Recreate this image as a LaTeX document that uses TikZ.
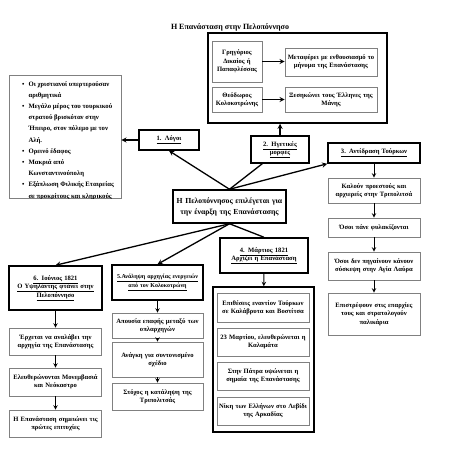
\documentclass[tikz,border=0pt]{standalone}
\usepackage{fontspec}
\setmainfont{Liberation Serif}
\tikzset
 {> = stealth,                                  % small pointed arrow tips
  hbox/.style = {draw, line width=1.5pt, align=center, inner sep=1pt,
    font=\bfseries\fontsize{6.6}{8.4}\selectfont},      % framed headings
  sbox/.style = {draw=gray, line width=0.6pt, align=center, inner sep=1pt,
    font=\bfseries\fontsize{6.6}{8.4}\selectfont},      % grey detail boxes
  box/.code 2 args = {\pgfmathsetmacro\tw{#1-2}%         % size of a box
    \edef\tmp{\noexpand\tikzset{minimum width=#1pt, minimum height=#2pt,
      text width=\tw pt}}\tmp},
  link/.style = {line width=1.3pt},                     % main connectors
  down/.style = {->, line width=1pt}                    % arrows in a column
 }
\begin{document}
\begin{tikzpicture}[x=1pt, y=-1pt]
    \useasboundingbox (0,0) rectangle (452,452);
    \node[font=\bfseries\fontsize{8}{10}\selectfont] (title) at (230,27) {Η Επανάσταση στην Πελοπόννησο};
    % leaders
    \node[hbox, box={179}{90}] (leaders) at (297.5,78) {};
    \node[sbox, box={50}{41}] (papaf) at (237,61.5) {Γρηγόριος\\Δικαίος ή\\Παπαφλέσσας};
    \node[sbox, box={92}{28}] (msg) at (331,62) {Μεταφέρει με ενθουσιασμό το\\μήνυμα της Επανάστασης};
    \node[sbox, box={50}{25}] (kolok) at (237,99.5) {Θεόδωρος\\Κολοκοτρώνης};
    \node[sbox, box={92}{25}] (xesik) at (331,99.5) {Ξεσηκώνει τους Έλληνες της\\Μάνης};
    \node[hbox, box={58}{27}] (leaders2) at (280,149.5) {\underline{2. Ηγετικές}\\\underline{μορφές}};
    % reasons
    \node[hbox, box={60}{20}] (reasons) at (169,140) {\underline{1. Λόγοι}};
    \node[sbox, box={112}{123}] (list) at (65,136.5) {};
    \begin{scope}
        \clip (list.south west) rectangle (list.north east);
        \node[anchor=north west, inner sep=0pt,
          font=\bfseries\fontsize{6.7}{11.2}\selectfont] (items) at (22,78)
         {\begin{tabular}{@{}l@{\hspace{4pt}}l@{}}
          \textbullet & Οι χριστιανοί υπερτερούσαν\\
                      & αριθμητικά\\
          \textbullet & Μεγάλο μέρος του τουρκικού\\
                      & στρατού βρισκόταν στην\\
                      & Ήπειρο, στον πόλεμο με τον\\
                      & Αλή.\\
          \textbullet & Ορεινό έδαφος\\
          \textbullet & Μακριά από\\
                      & Κωνσταντινούπολη\\
          \textbullet & Εξάπλωση Φιλικής Εταιρείας\\
                      & σε προκρίτους και κληρικούς
          \end{tabular}};
    \end{scope}
    % centre
    \node[hbox, box={113}{33}, font=\bfseries\fontsize{7.7}{11}\selectfont] (center) at (229.5,206.5) {Η Πελοπόννησος επιλέγεται για\\την έναρξη της Επανάστασης};
    % reaction of the Turks
    \node[hbox, box={92}{20}] (turks) at (374,153) {\underline{3. Αντίδραση Τούρκων}};
    \node[sbox, box={92}{25}] (call) at (374,190.5) {Καλούν προεστούς και\\αρχιερείς στην Τριπολιτσά};
    \node[sbox, box={92}{19}] (jailed) at (374,227.5) {Όσοι πάνε φυλακίζονται};
    \node[sbox, box={92}{28}] (meeting) at (374,266) {Όσοι δεν πηγαίνουν κάνουν\\σύσκεψη στην Αγία Λαύρα};
    \node[sbox, box={92}{42}] (recruit) at (374,314) {Επιστρέφουν στις επαρχίες\\τους και στρατολογούν\\παλικάρια};
    % March 1821
    \node[hbox, box={88}{35}] (march) at (264,255.5) {\underline{4. Μάρτιος 1821}\\\underline{Αρχίζει η Επανάσταση}};
    \node[hbox, box={101}{145}] (group) at (263.5,359.5) {};
    \node[sbox, box={92}{29}] (attacks) at (263,307.5) {Επιθέσεις εναντίον Τούρκων\\σε Καλάβρυτα και Βοστίτσα};
    \node[sbox, box={92}{28}] (kalam) at (263,342) {23 Μαρτίου, ελευθερώνεται η\\Καλαμάτα};
    \node[sbox, box={92}{28}] (patra) at (263,376) {Στην Πάτρα υψώνεται η\\σημαία της Επανάστασης};
    \node[sbox, box={92}{28}] (levidi) at (263,411) {Νίκη των Ελλήνων στο Λεβίδι\\της Αρκαδίας};
    % June 1821
    \node[hbox, box={93}{44}] (june) at (55.5,288) {\underline{6. Ιούνιος 1821}\\\underline{Ο Υψηλάντης φτάνει στην}\\\underline{Πελοπόννησο}};
    \node[sbox, box={92}{27}] (arrive) at (55.5,341.5) {Έρχεται να αναλάβει την\\αρχηγία της Επανάστασης};
    \node[sbox, box={92}{28}] (monem) at (55.5,382) {Ελευθερώνονται Μονεμβασιά\\και Νεόκαστρο};
    \node[sbox, box={92}{27}] (success) at (55.5,423.5) {Η Επανάσταση σημειώνει τις\\πρώτες επιτυχίες};
    % Kolokotronis
    \node[hbox, box={91}{35}, font=\bfseries\fontsize{6}{8.4}\selectfont] (kolhead) at (157.5,282.5) {\underline{5.Ανάληψη αρχηγίας ενεργειών}\\\underline{από τον Κολοκοτρώνη}};
    \node[sbox, box={91}{25}] (contact) at (157.5,325.5) {Απουσία επαφής μεταξύ των\\οπλαρχηγών};
    \node[sbox, box={91}{35}] (plan) at (157.5,359.5) {Ανάγκη για συντονισμένο\\σχέδιο};
    \node[sbox, box={91}{27}] (target) at (157.5,396.5) {Στόχος η κατάληψη της\\Τριπολιτσάς};
    % connectors
    \draw[->, link] (reasons.west) -- (reasons.west -| list.east);
    \draw[->, link] (papaf.east) -- (papaf.east -| msg.west);
    \draw[->, link] (kolok) -- (xesik);
    \draw[->, link] (leaders2.north) -- (leaders2.north |- leaders.south);
    \draw[->, link] (center.north) -- (reasons.south);
    \draw[link] (center.north) -- ([xshift=12pt]leaders2.south west);
    \draw[->, link] (center.north) -- (turks.south west);
    \draw[link] (center.south) -- (march.north);
    \draw[->, link] (center.south) -- (june.north);
    \draw[->, link] (center.south) -- (kolhead.north);
    \draw[down] (march) -- (group);
    \foreach \a/\b in {turks/call, call/jailed, jailed/meeting, meeting/recruit,
                       june/arrive, arrive/monem, monem/success,
                       kolhead/contact, contact/plan, plan/target}
        \draw[down] (\a) -- (\b);
\end{tikzpicture}
\end{document}
